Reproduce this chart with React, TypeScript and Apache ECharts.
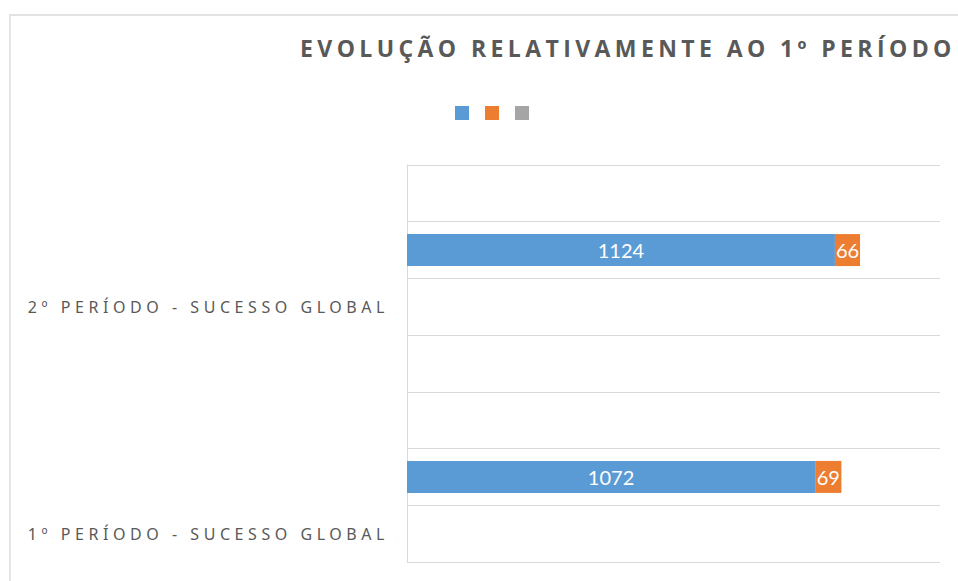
import React, { useEffect, useRef } from "react";
import * as echarts from "echarts";

const titleText = "EVOLUÇÃO RELATIVAMENTE AO 1º PERÍODO";
const categories = ["", "", "2º PERÍODO - SUCESSO GLOBAL", "", "", "", "1º PERÍODO - SUCESSO GLOBAL"];
const seriesNames = ["Sucesso", "Insucesso", "Outros"];
const blueValues = [null, 1124, null, null, null, 1072, null];
const orangeValues = [null, 66, null, null, null, 69, null];
const grayValues = [null, null, null, null, null, null, null];
const colors = ["#5b9bd5", "#ed7d31", "#a5a5a5"];

export default function App() {
  const ref = useRef<HTMLDivElement>(null);
  useEffect(() => {
    if (!ref.current) return;
    const chart = echarts.init(ref.current, undefined, { renderer: "svg" });
    const labelStyle = {
      show: true,
      position: "inside",
      color: "#ffffff",
      fontFamily: "Lato",
      fontSize: 20,
    };
    chart.setOption({
      animation: false,
      backgroundColor: "#ffffff",
      color: colors,
      title: {
        text: titleText,
        left: 300,
        top: 36,
        padding: 0,
        textStyle: {
          fontFamily: "Open Sans",
          fontWeight: "bold",
          fontSize: 23,
          color: "#595959",
        },
      },
      legend: {
        left: 455,
        top: 106,
        padding: 0,
        itemWidth: 14,
        itemHeight: 14,
        itemGap: 16,
        icon: "rect",
        selectedMode: false,
        formatter: () => "",
        data: seriesNames,
      },
      grid: { left: 407, right: 18, top: 165, bottom: 19, containLabel: false },
      xAxis: {
        type: "value",
        min: 0,
        max: 1400,
        show: false,
        splitLine: { show: false },
      },
      yAxis: {
        type: "category",
        inverse: true,
        data: categories,
        axisLine: { show: true, lineStyle: { color: "#d9d9d9", width: 1 } },
        axisTick: { show: false },
        axisLabel: {
          interval: 0,
          margin: 18,
          color: "#595959",
          fontFamily: "Noto Sans",
          fontSize: 16,
        },
        splitLine: { show: true, interval: 0, lineStyle: { color: "#d9d9d9", width: 1 } },
      },
      graphic: [
        {
          type: "rect",
          z: -10,
          shape: { x: 10, y: 15, width: 1100, height: 1000 },
          style: { fill: "none", stroke: "#d9d9d9", lineWidth: 1.3 },
          silent: true,
        },
      ],
      series: [
        {
          name: seriesNames[0],
          type: "bar",
          stack: "total",
          barWidth: 32,
          data: blueValues,
          label: labelStyle,
        },
        {
          name: seriesNames[1],
          type: "bar",
          stack: "total",
          barWidth: 32,
          data: orangeValues,
          label: labelStyle,
        },
        {
          name: seriesNames[2],
          type: "bar",
          stack: "total",
          barWidth: 32,
          data: grayValues,
        },
      ],
    });
    return () => chart.dispose();
  }, []);
  return (
    <>
      <style>{`
        #chartbox text[style*="Open Sans"] { letter-spacing: 4.4px; }
        #chartbox text[style*="Noto Sans"] { letter-spacing: 4.55px; }
      `}</style>
      <div
        id="chartbox"
        ref={ref}
        style={{ position: "fixed", left: 0, top: 0, width: 958, height: 581 }}
      />
    </>
  );
}
